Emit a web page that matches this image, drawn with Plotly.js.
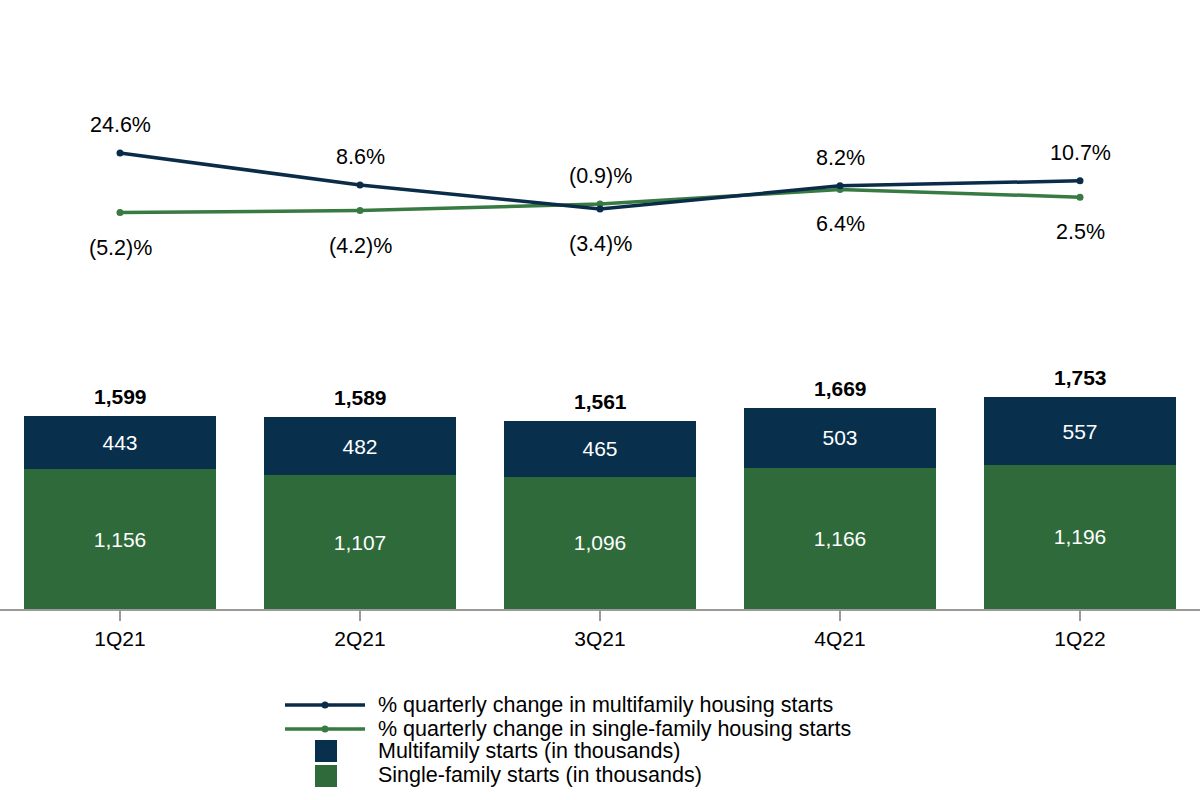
<!DOCTYPE html>
<html>
<head>
<meta charset="utf-8">
<script src="https://cdn.plot.ly/plotly-3.0.1.min.js"></script>
<style>html,body{margin:0;padding:0;background:#fff}#chart{width:1200px;height:800px}</style>
</head>
<body>
<div id="chart"></div>
<script>
// ---- data ----
const quarters = ["1Q21", "2Q21", "3Q21", "4Q21", "1Q22"];
const singleFamilyStarts = [1156, 1107, 1096, 1166, 1196];
const multifamilyStarts = [443, 482, 465, 503, 557];
const totalStarts = [1599, 1589, 1561, 1669, 1753];
const multiPctChange = [24.6, 8.6, -3.4, 8.2, 10.7];
const singlePctChange = [-5.2, -4.2, -0.9, 6.4, 2.5];
const legendLabels = [
  "% quarterly change in multifamily housing starts",
  "% quarterly change in single-family housing starts",
  "Multifamily starts (in thousands)",
  "Single-family starts (in thousands)"
];

// ---- styles ----
const NAVY_BAR = "#08304D";
const GREEN_BAR = "#2E6A3A";
const NAVY_LINE = "#0B2C48";
const GREEN_LINE = "#377A42";
const FONT = "Liberation Sans, Arial, sans-serif";

function fmtNum(v) { return v.toLocaleString("en-US"); }
function fmtPct(v) { return v < 0 ? "(" + Math.abs(v).toFixed(1) + ")%" : v.toFixed(1) + "%"; }

const traces = [
  {
    type: "bar", x: quarters, y: singleFamilyStarts, name: legendLabels[3],
    marker: {color: GREEN_BAR}, text: singleFamilyStarts.map(fmtNum),
    textposition: "inside", insidetextanchor: "middle",
    textfont: {color: "#ffffff", size: 21, family: FONT},
    hoverinfo: "skip", showlegend: false
  },
  {
    type: "bar", x: quarters, y: multifamilyStarts, name: legendLabels[2],
    marker: {color: NAVY_BAR}, text: multifamilyStarts.map(fmtNum),
    textposition: "inside", insidetextanchor: "middle",
    textfont: {color: "#ffffff", size: 21, family: FONT},
    hoverinfo: "skip", showlegend: false
  },
  {
    type: "scatter", mode: "lines+markers", x: quarters, y: singlePctChange, yaxis: "y2",
    name: legendLabels[1], line: {color: GREEN_LINE, width: 3.5}, marker: {color: GREEN_LINE, size: 7},
    hoverinfo: "skip", showlegend: false
  },
  {
    type: "scatter", mode: "lines+markers", x: quarters, y: multiPctChange, yaxis: "y2",
    name: legendLabels[0], line: {color: NAVY_LINE, width: 3.5}, marker: {color: NAVY_LINE, size: 7},
    hoverinfo: "skip", showlegend: false
  }
];

const annotations = [];
// totals above bars
quarters.forEach((q, i) => {
  annotations.push({
    x: q, y: totalStarts[i], xref: "x", yref: "y", text: "<b>" + fmtNum(totalStarts[i]) + "</b>",
    showarrow: false, yanchor: "bottom", yshift: 6, font: {size: 21, color: "#000", family: FONT}
  });
});
// percent labels
quarters.forEach((q, i) => {
  const m = multiPctChange[i], s = singlePctChange[i];
  const mAbove = m >= s;
  annotations.push({
    x: q, y: m, xref: "x", yref: "y2", text: fmtPct(m), showarrow: false,
    yanchor: "middle", yshift: mAbove ? 28 : -35, font: {size: 21.5, color: "#000", family: FONT}
  });
  annotations.push({
    x: q, y: s, xref: "x", yref: "y2", text: fmtPct(s), showarrow: false,
    yanchor: "middle", yshift: mAbove ? -35 : 28, font: {size: 21.5, color: "#000", family: FONT}
  });
});

// custom legend (paper coords; plot area is 0..609 px tall)
const PH = 609;
const py = p => (PH - p) / PH;
const px = p => p / 1200;
const rows = [705, 729, 751, 775];
const shapes = [];
shapes.push({type: "line", xref: "paper", yref: "paper", x0: px(285), x1: px(365), y0: py(rows[0]), y1: py(rows[0]), line: {color: NAVY_LINE, width: 3.5}});
shapes.push({type: "circle", xref: "paper", yref: "paper", x0: px(321.5), x1: px(328.5), y0: py(rows[0] + 3.5), y1: py(rows[0] - 3.5), fillcolor: NAVY_LINE, line: {width: 0}});
shapes.push({type: "line", xref: "paper", yref: "paper", x0: px(285), x1: px(365), y0: py(rows[1]), y1: py(rows[1]), line: {color: GREEN_LINE, width: 3.5}});
shapes.push({type: "circle", xref: "paper", yref: "paper", x0: px(321.5), x1: px(328.5), y0: py(rows[1] + 3.5), y1: py(rows[1] - 3.5), fillcolor: GREEN_LINE, line: {width: 0}});
shapes.push({type: "rect", xref: "paper", yref: "paper", x0: px(315), x1: px(337), y0: py(762), y1: py(740), fillcolor: NAVY_BAR, line: {width: 0}});
shapes.push({type: "rect", xref: "paper", yref: "paper", x0: px(315), x1: px(337), y0: py(787), y1: py(765), fillcolor: GREEN_BAR, line: {width: 0}});
legendLabels.forEach((t, i) => {
  annotations.push({
    x: px(376), y: py(rows[i]), xref: "paper", yref: "paper", text: t, showarrow: false,
    xanchor: "left", yanchor: "middle", font: {size: 21.5, color: "#000", family: FONT}
  });
});

const layout = {
  width: 1200, height: 800,
  margin: {l: 0, r: 0, t: 0, b: 191},
  paper_bgcolor: "#fff", plot_bgcolor: "#fff",
  barmode: "stack", bargap: 0.2,
  showlegend: false,
  font: {family: FONT, color: "#000"},
  xaxis: {
    type: "category", range: [-0.5, 4.5], showgrid: false, zeroline: false,
    showline: true, linecolor: "#9a9a9a", linewidth: 2,
    ticks: "outside", ticklen: 10, tickwidth: 2, tickcolor: "#9a9a9a",
    tickfont: {size: 21, color: "#000", family: FONT}, fixedrange: true
  },
  yaxis: {range: [0, 5046], visible: false, showgrid: false, zeroline: false, fixedrange: true},
  yaxis2: {range: [-203.4, 101.1], overlaying: "y", visible: false, showgrid: false, zeroline: false, fixedrange: true},
  annotations: annotations,
  shapes: shapes
};

Plotly.newPlot("chart", traces, layout, {displayModeBar: false, staticPlot: true});
</script>
</body>
</html>
